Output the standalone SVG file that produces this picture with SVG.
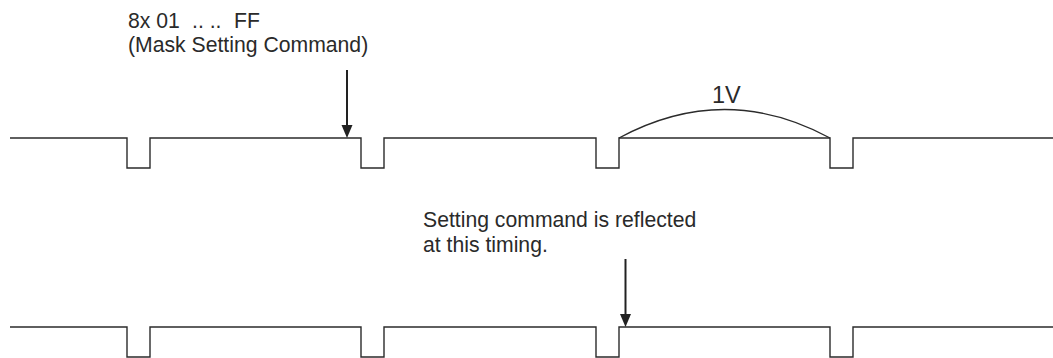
<svg xmlns="http://www.w3.org/2000/svg" width="1053" height="358" viewBox="0 0 1053 358">
<style>
.w{fill:none;stroke:#2b2b2b;stroke-width:1.4}
.a{stroke:#222;stroke-width:2;fill:none}
.h{fill:#222;stroke:none}
text{font-family:"Liberation Sans",Arial,sans-serif;font-size:21.2px;fill:#2a2a2a}
</style>
<g id="connectors">
<path id="signal-top" class="w" d="M10 138H127V168H150V138H361V168H384V138H596V168H619V138H830V168H853V138H1053"/>
<path id="signal-bottom" class="w" d="M10 327H127V357H150V327H361V357H384V327H596V357H619V327H830V357H853V327H1053"/>
<path id="arc-1v" class="w" d="M619 138Q724.500 81 830 138"/>
<path class="a" d="M347 70V128"/>
<path class="h" d="M341.500 125H352.500L347 138Z"/>
<path class="a" d="M625.500 259V317"/>
<path class="h" d="M620 314H631L625.500 327Z"/>
</g>
<g id="label-command"><text x="128" y="28">8x 01<tspan x="192">.. ..</tspan><tspan x="234">FF</tspan></text><text x="128" y="52">(Mask Setting Command)</text></g>
<g id="label-1v"><text x="712" y="103" style="font-size:23.500px">1V</text></g>
<g id="label-reflected"><text x="423" y="227">Setting command is reflected</text><text x="423" y="252">at this timing.</text></g>
</svg>
